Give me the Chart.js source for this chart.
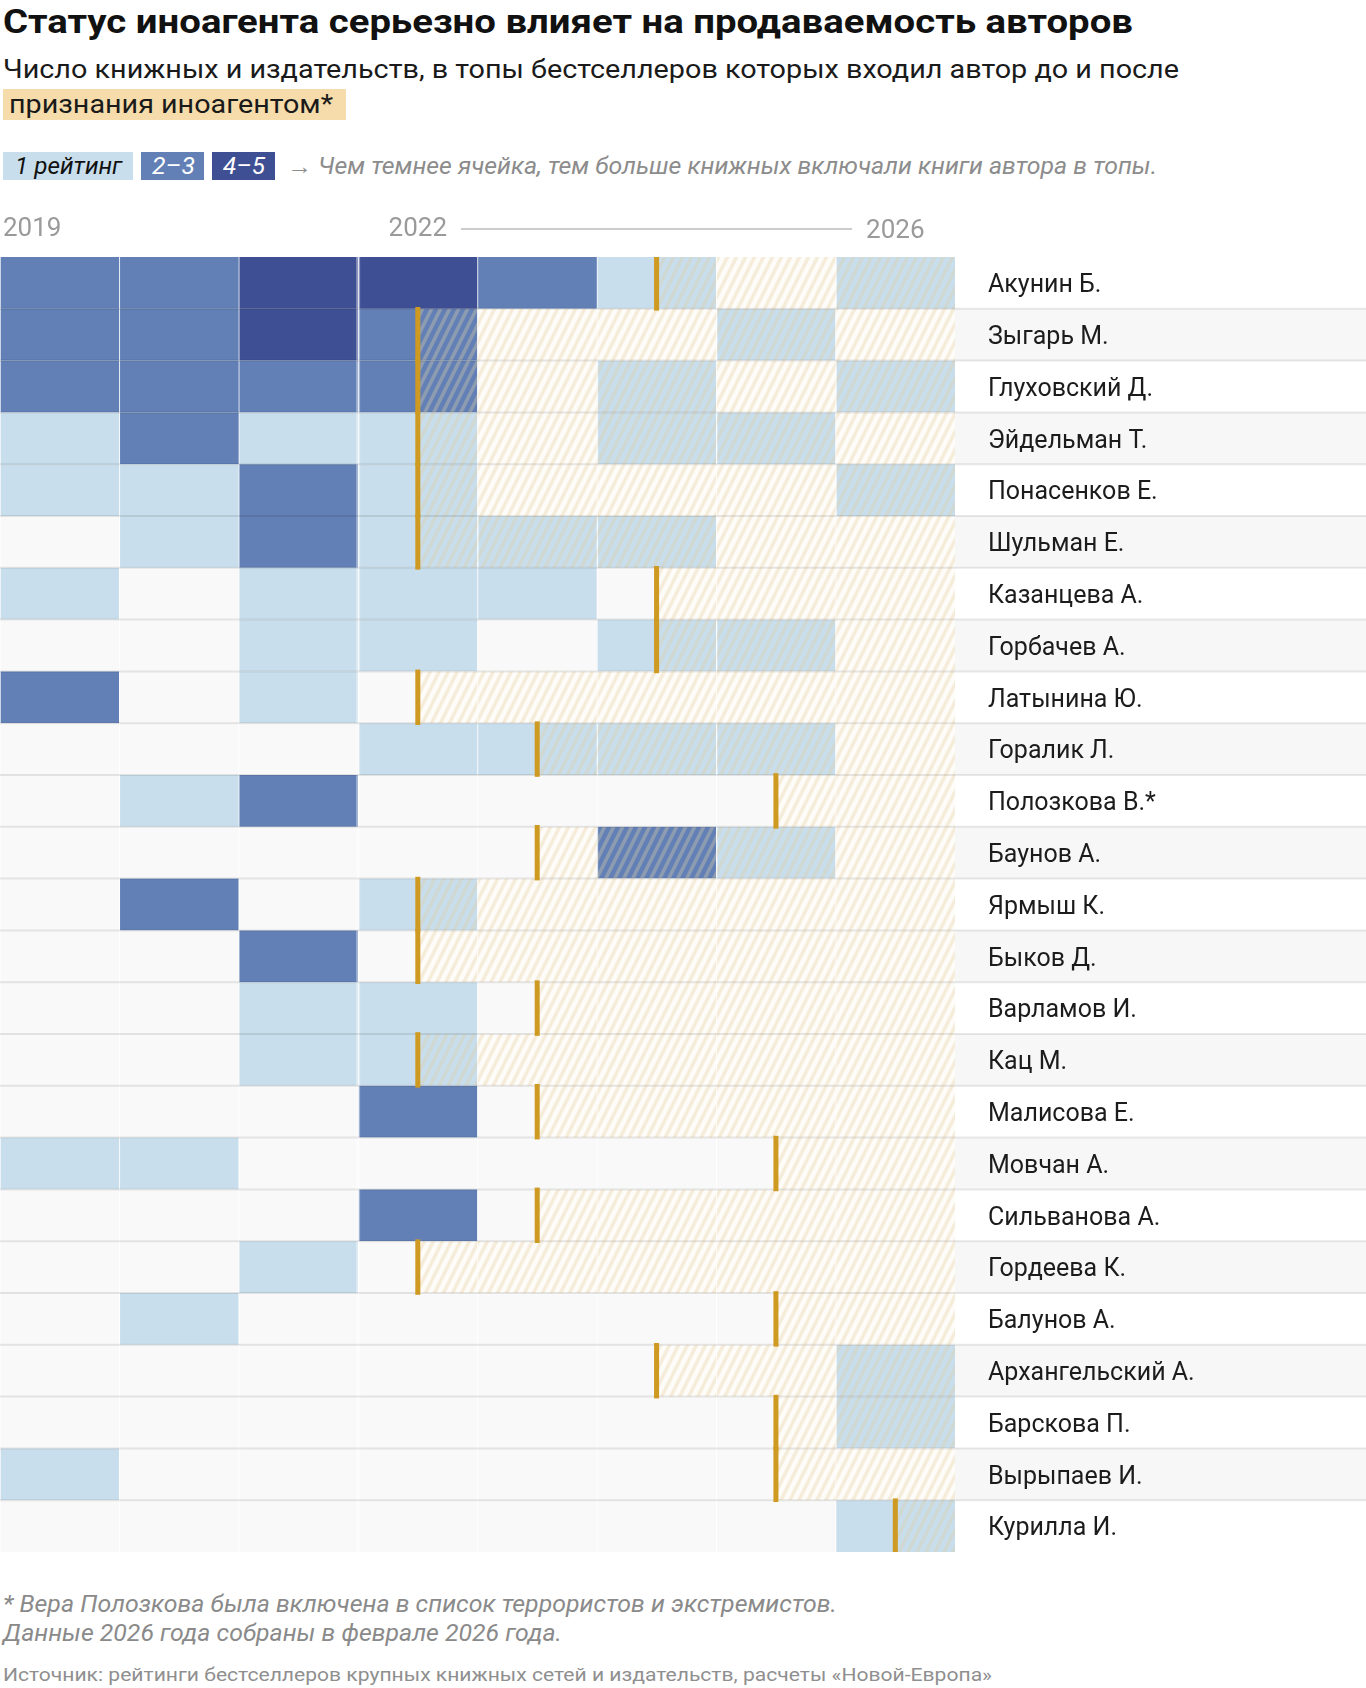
<!DOCTYPE html>
<html lang="ru">
<head>
<meta charset="utf-8">
<title>Статус иноагента и продаваемость авторов</title>
<script src="https://cdn.jsdelivr.net/npm/chart.js@4.4.1/dist/chart.umd.min.js"></script>
<style>
  html, body { margin: 0; padding: 0; background: #fff; }
  body { width: 1366px; height: 1688px; position: relative; overflow: hidden; font-family: Roboto, "Noto Sans", sans-serif; }
  .t { position: absolute; white-space: nowrap; line-height: 1; transform-origin: 0 50%; }
  #title { left: 3px; top: 5px; font-size: 33px; font-weight: 700; color: #111; }
  #sub1 { left: 3px; top: 57px; font-size: 25px; color: #1a1a1a; }
  #subBox { position: absolute; left: 3px; top: 89px; width: 343px; height: 31px; background: #f5dcaa; }
  #sub2 { left: 9px; top: 92px; font-size: 25px; color: #1a1a1a; }
  .lg { position: absolute; top: 152px; height: 28px; }
  .lgt { top: 154px; font-size: 24px; font-style: italic; }
  #lgNote { left: 287px; top: 155px; font-size: 23px; font-style: italic; color: #8c8c8c; }
  #note1 { left: 3px; top: 1593px; font-size: 23px; font-style: italic; color: #8a8a8a; }
  #note2 { left: 3px; top: 1622px; font-size: 23px; font-style: italic; color: #8a8a8a; }
  #source { left: 3px; top: 1665px; font-size: 19px; color: #8f8f8f; }
  #chartBox { position: absolute; left: 0; top: 200px; width: 1366px; height: 1358px; }
</style>
</head>
<body>
<div id="title" class="t" data-w="1130">Статус иноагента серьезно влияет на продаваемость авторов</div>
<div id="sub1" class="t" data-w="1176">Число книжных и издательств, в топы бестселлеров которых входил автор до и после</div>
<div id="subBox"></div>
<div id="sub2" class="t" data-w="324">признания иноагентом*</div>

<div class="lg" style="left:3px;width:130px;background:#c9deec"></div>
<div class="lg" style="left:141px;width:63px;background:#6280b6"></div>
<div class="lg" style="left:212px;width:63px;background:#3f4f94"></div>
<div class="t lgt" style="left:15px;color:#111" data-w="107">1 рейтинг</div>
<div class="t lgt" style="left:152px;color:#fff" data-w="43">2–3</div>
<div class="t lgt" style="left:223px;color:#fff" data-w="42">4–5</div>
<div id="lgNote" class="t" data-w="870">→ Чем темнее ячейка, тем больше книжных включали книги автора в топы.</div>

<div id="chartBox"><canvas id="heat" width="1366" height="1358"></canvas></div>

<div id="note1" class="t" data-w="834">* Вера Полозкова была включена в список террористов и экстремистов.</div>
<div id="note2" class="t" data-w="559">Данные 2026 года собраны в феврале 2026 года.</div>
<div id="source" class="t" data-w="989">Источник: рейтинги бестселлеров крупных книжных сетей и издательств, расчеты «Новой-Европа»</div>

<script>
// years shown as columns
const years = [2019, 2020, 2021, 2022, 2023, 2024, 2025, 2026];
const headerYears = [2019, 2022, 2026];

const authors = [
    'Акунин Б.', 'Зыгарь М.', 'Глуховский Д.', 'Эйдельман Т.', 'Понасенков Е.',
    'Шульман Е.', 'Казанцева А.', 'Горбачев А.', 'Латынина Ю.', 'Горалик Л.',
    'Полозкова В.*', 'Баунов А.', 'Ярмыш К.', 'Быков Д.', 'Варламов И.',
    'Кац М.', 'Малисова Е.', 'Мовчан А.', 'Сильванова А.', 'Гордеева К.',
    'Балунов А.', 'Архангельский А.', 'Барскова П.', 'Вырыпаев И.', 'Курилла И.'
];

// year the author was declared a foreign agent
const agentYear = [
    2024, 2022, 2022, 2022, 2022,
    2022, 2024, 2024, 2022, 2023,
    2025, 2023, 2022, 2022, 2023,
    2022, 2023, 2025, 2023, 2022,
    2025, 2024, 2025, 2025, 2026
];

// number of chains/publishers with the author in their top lists (0 = none)
const r2019 = [2, 2, 2, 1, 1, 0, 1, 0, 2, 0, 0, 0, 0, 0, 0, 0, 0, 1, 0, 0, 0, 0, 0, 1, 0];
const r2020 = [2, 2, 2, 2, 1, 1, 0, 0, 0, 0, 1, 0, 2, 0, 0, 0, 0, 1, 0, 0, 1, 0, 0, 0, 0];
const r2021 = [4, 4, 2, 1, 2, 2, 1, 1, 1, 0, 2, 0, 0, 2, 1, 1, 0, 0, 0, 1, 0, 0, 0, 0, 0];
const r2022 = [4, 2, 2, 1, 1, 1, 1, 1, 0, 1, 0, 0, 1, 0, 1, 1, 2, 0, 2, 0, 0, 0, 0, 0, 0];
const r2023 = [2, 0, 0, 0, 0, 1, 1, 0, 0, 1, 0, 0, 0, 0, 0, 0, 0, 0, 0, 0, 0, 0, 0, 0, 0];
const r2024 = [1, 0, 1, 1, 0, 1, 0, 1, 0, 1, 0, 2, 0, 0, 0, 0, 0, 0, 0, 0, 0, 0, 0, 0, 0];
const r2025 = [0, 1, 0, 1, 0, 0, 0, 1, 0, 1, 0, 1, 0, 0, 0, 0, 0, 0, 0, 0, 0, 0, 0, 0, 0];
const r2026 = [1, 0, 1, 0, 1, 0, 0, 0, 0, 0, 0, 0, 0, 0, 0, 0, 0, 0, 0, 0, 0, 1, 1, 0, 1];
const series = [r2019, r2020, r2021, r2022, r2023, r2024, r2025, r2026];

// squeeze html text to the condensed widths of the original
document.querySelectorAll('[data-w]').forEach(el => {
    const w = el.getBoundingClientRect().width;
    el.style.transform = 'scaleX(' + (+el.dataset.w / w).toFixed(4) + ')';
});

function levelColor(v) {
    if (v >= 4) return '#3f4f94';
    if (v >= 2) return '#6280b6';
    if (v >= 1) return '#c9deec';
    return '#f9f9f9';
}

function stripes(bg, fg) {
    const c = document.createElement('canvas');
    c.width = 9; c.height = 18;
    const g = c.getContext('2d');
    if (bg) { g.fillStyle = bg; g.fillRect(0, 0, 9, 18); }
    g.strokeStyle = fg;
    g.lineWidth = 3.6;
    [-9, 0, 9].forEach(dx => {
        g.beginPath();
        g.moveTo(dx - 4.5, 27);
        g.lineTo(dx + 13.5, -9);
        g.stroke();
    });
    return g.createPattern(c, 'repeat');
}
const emptyHatch = stripes('#fdfcf9', '#f6ecda');
const overHatch = stripes(null, 'rgba(222, 204, 168, 0.36)');

const cellData = [], hatchData = [], markerData = [];
authors.forEach((name, r) => {
    const m = agentYear[r] - years[0] + 0.5;
    series.forEach((col, c) => {
        cellData.push({ x: [c, c + 1], y: name, v: col[r] });
        if (c + 1 > m) hatchData.push({ x: [Math.max(c, m), c + 1], y: name, v: col[r] });
    });
    markerData.push({ x: [m - 0.021, m + 0.021], y: name });
});

const rowPlugin = {
    id: 'rows',
    beforeDraw(chart) {
        const { ctx, chartArea, scales: { y } } = chart;
        const h = y.getPixelForValue(1) - y.getPixelForValue(0);
        ctx.save();
        ctx.fillStyle = '#f7f7f7';
        authors.forEach((n, i) => {
            if (i % 2) ctx.fillRect(chartArea.right, y.getPixelForValue(i) - h / 2, chart.width - chartArea.right, h);
        });
        ctx.restore();
    },
    afterDatasetDraw(chart, args) {
        if (args.index !== 1) return;
        const { ctx, chartArea, scales: { x, y } } = chart;
        ctx.save();
        // faint line at the start of 2022
        const x22 = x.getPixelForValue(years.indexOf(2022));
        ctx.strokeStyle = 'rgba(255,255,255,0.4)';
        ctx.lineWidth = 4;
        ctx.beginPath();
        ctx.moveTo(x22, chartArea.top);
        ctx.lineTo(x22, chartArea.bottom);
        ctx.stroke();
        // row separators
        ctx.strokeStyle = 'rgba(0,0,0,0.09)';
        ctx.lineWidth = 2;
        for (let i = 0; i < authors.length - 1; i++) {
            const yy = (y.getPixelForValue(i) + y.getPixelForValue(i + 1)) / 2;
            ctx.beginPath();
            ctx.moveTo(0, yy);
            ctx.lineTo(chart.width, yy);
            ctx.stroke();
        }
        ctx.restore();
    },
    afterDraw(chart) {
        const { ctx, chartArea, scales: { x } } = chart;
        const yy = chartArea.top - 28;
        ctx.save();
        ctx.font = '26px Roboto';
        ctx.fillStyle = '#9a9a9a';
        ctx.textBaseline = 'middle';
        ctx.textAlign = 'left';
        ctx.fillText(String(headerYears[0]), x.getPixelForValue(years.indexOf(headerYears[0])) + 3, yy);
        ctx.textAlign = 'center';
        const xa = x.getPixelForValue(years.indexOf(headerYears[1]) + 0.5);
        const xb = x.getPixelForValue(years.indexOf(headerYears[2]) + 0.5);
        ctx.fillText(String(headerYears[1]), xa, yy);
        ctx.fillText(String(headerYears[2]), xb, yy + 2);
        const wa = ctx.measureText(String(headerYears[1])).width;
        const wb = ctx.measureText(String(headerYears[2])).width;
        ctx.strokeStyle = '#cccccc';
        ctx.lineWidth = 2;
        ctx.beginPath();
        ctx.moveTo(xa + wa / 2 + 14, yy);
        ctx.lineTo(xb - wb / 2 - 14, yy);
        ctx.stroke();
        ctx.restore();
    }
};

const barBase = { grouped: false, barPercentage: 1, categoryPercentage: 1, borderSkipped: false };

new Chart(document.getElementById('heat').getContext('2d'), {
    type: 'bar',
    data: {
        labels: authors,
        datasets: [
            Object.assign({
                data: cellData, order: 3,
                backgroundColor: c => levelColor(c.raw.v),
                borderColor: c => c.raw.v ? 'rgba(255,255,255,0.35)' : '#ffffff',
                borderWidth: { left: 1, right: 0, top: 0, bottom: 0 }
            }, barBase),
            Object.assign({
                data: hatchData, order: 2,
                backgroundColor: c => c.raw.v ? overHatch : emptyHatch,
                borderColor: 'rgba(255,255,255,0.5)',
                borderWidth: { left: 1, right: 0, top: 0, bottom: 0 }
            }, barBase),
            Object.assign({
                data: markerData, order: 1,
                backgroundColor: '#cf9a22', borderWidth: 0
            }, barBase, { barPercentage: 1.07 })
        ]
    },
    options: {
        indexAxis: 'y',
        responsive: false,
        animation: false,
        events: [],
        layout: { padding: { top: 57, bottom: 6, left: 0, right: 0 } },
        plugins: { legend: { display: false }, tooltip: { enabled: false } },
        scales: {
            x: { type: 'linear', min: 0, max: years.length, display: false },
            y: {
                type: 'category',
                position: 'right',
                offset: true,
                grid: { display: false, drawTicks: false },
                border: { display: false },
                ticks: { padding: 33, labelOffset: 3, color: '#1c1c1c', font: { family: 'Roboto', size: 25 } },
                afterFit: s => { s.width = 411; s.paddingTop = 0; s.paddingBottom = 0; }
            }
        }
    },
    plugins: [rowPlugin]
});
</script>
</body>
</html>
